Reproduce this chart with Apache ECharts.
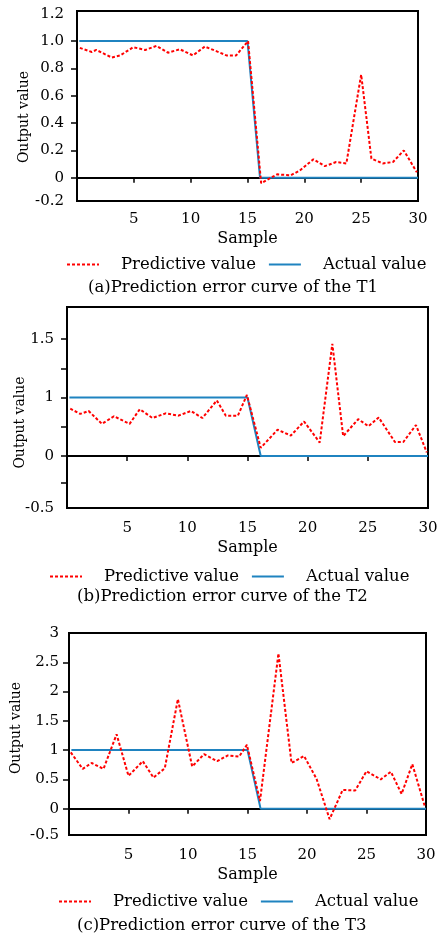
<!DOCTYPE html>
<html>
<head>
<meta charset="utf-8">
<script src="https://cdn.jsdelivr.net/npm/echarts@6/dist/echarts.min.js"></script>
<style>
  html, body { margin: 0; padding: 0; background: #fff; }
  #main { width: 444px; height: 937px; }
</style>
</head>
<body>
<div id="main"></div>
<script>
// actual value (step from 1 to 0 after sample 15), same for all three
var actualX = [0.2, 15, 16.1, 30];
var actualY = [1, 1, 0, 0];

// (a) T1
var predXA = [0.25, 1.3, 1.7, 3.05, 3.8, 4.95, 6, 7, 8, 9.05, 10.2, 11.25, 12.3, 13.15, 14, 15.05, 16.2, 17.6, 18.8, 19.6, 20.8, 21.8, 22.8, 23.7, 25, 25.9, 26.9, 27.8, 28.75, 29.9];
var predYA = [0.95, 0.92, 0.935, 0.88, 0.895, 0.955, 0.935, 0.965, 0.915, 0.94, 0.895, 0.96, 0.925, 0.895, 0.895, 1.0, -0.04, 0.025, 0.018, 0.053, 0.135, 0.085, 0.115, 0.105, 0.755, 0.14, 0.105, 0.115, 0.2, 0.04];

// (b) T2
var predXB = [0.27, 1.1, 1.8, 2.9, 3.9, 5.2, 6.05, 7.1, 8.2, 9.25, 10.3, 11.25, 12.45, 13.2, 14.2, 14.95, 16.1, 17.5, 18.6, 19.7, 21, 22.05, 22.95, 24.2, 25.05, 25.9, 27.25, 27.95, 29, 29.9];
var predYB = [0.81, 0.72, 0.77, 0.55, 0.68, 0.55, 0.8, 0.65, 0.73, 0.69, 0.77, 0.65, 0.95, 0.69, 0.69, 1.045, 0.14, 0.45, 0.35, 0.59, 0.23, 1.92, 0.34, 0.63, 0.51, 0.66, 0.24, 0.24, 0.53, 0.06];

// (c) T3
var predXC = [0.15, 1.15, 1.9, 2.9, 4, 5, 6.2, 7.1, 8.05, 9.15, 10.35, 11.35, 12.45, 13.35, 14.3, 14.95, 16.05, 17.6, 18.7, 19.75, 20.8, 21.9, 23, 24.05, 25, 26.2, 27.05, 27.95, 28.85, 29.9];
var predYC = [0.96, 0.68, 0.78, 0.68, 1.27, 0.56, 0.81, 0.53, 0.69, 1.87, 0.72, 0.93, 0.81, 0.91, 0.89, 1.09, 0.13, 2.65, 0.78, 0.9, 0.51, -0.18, 0.32, 0.31, 0.64, 0.5, 0.63, 0.25, 0.76, 0.04];

// y tick positions and the label printed at each
var yTickA = [0, 0.2, 0.4, 0.6, 0.8, 1.0];
var yLabValA = [-0.17, 0, 0.2, 0.4, 0.6, 0.8, 1.0, 1.2];
var yLabTxtA = ['-0.2', '0', '0.2', '0.4', '0.6', '0.8', '1.0', '1.2'];

var yTickB = [-0.45, 0, 0.5, 1, 1.5, 2];
var yLabValB = [-0.89, 0, 1, 2];
var yLabTxtB = ['-0.5', '0', '1', '1.5'];

var yTickC = [0, 0.5, 1, 1.5, 2, 2.5];
var yLabValC = [-0.45, 0, 0.5, 1, 1.5, 2, 2.5, 3];
var yLabTxtC = ['-0.5', '0', '0.5', '1', '1.5', '2', '2.5', '3'];

var captions = ['(a)Prediction error curve of the T1', '(b)Prediction error curve of the T2', '(c)Prediction error curve of the T3'];

var FONT = 'DejaVu Serif';
var RED = '#ff0000';
var BLUE = '#1f83c0';

function pairs(xs, ys) {
  return xs.map(function (x, i) { return [x, ys[i]]; });
}

function makeX(idx, margin, gap) {
  return {
    gridIndex: idx, type: 'value', min: 0, max: 30, interval: 5,
    name: 'Sample', nameLocation: 'middle', nameGap: gap,
    nameTextStyle: { fontFamily: FONT, fontSize: 16, color: '#000' },
    axisLine: { lineStyle: { color: '#000', width: 2 } },
    axisTick: { length: 5, lineStyle: { color: '#000', width: 1.5 } },
    axisLabel: { fontFamily: FONT, fontSize: 15, color: '#000', margin: margin,
      formatter: function (v) { return v === 0 ? '' : v; } },
    splitLine: { show: false }
  };
}

// namePad shifts the rotated name along the axis (right pad = down, left pad = up)
function makeY(idx, min, max, ticks, labVals, labTxt, margin, gap, namePad) {
  return {
    gridIndex: idx, type: 'value', min: min, max: max,
    name: 'Output value', nameLocation: 'middle', nameGap: gap, nameMoveOverlap: false,
    nameTextStyle: { fontFamily: FONT, fontSize: 14, color: '#000', padding: namePad },
    axisLine: { show: true, lineStyle: { color: '#000', width: 2 } },
    axisTick: { show: true, length: 6, customValues: ticks, lineStyle: { color: '#000', width: 1.5 } },
    axisLabel: { fontFamily: FONT, fontSize: 15, color: '#000', margin: margin,
      customValues: labVals,
      formatter: function (v) {
        for (var i = 0; i < labVals.length; i++) {
          if (Math.abs(labVals[i] - v) < 1e-6) return labTxt[i];
        }
        return '';
      } },
    splitLine: { show: false }
  };
}

function makeLegend(left, top) {
  return {
    left: left, top: top, padding: 0, itemWidth: 32, itemHeight: 14, itemGap: 12,
    data: ['Predictive value', 'Actual value'],
    itemStyle: { opacity: 0 },
    textStyle: { fontFamily: FONT, fontSize: 16.5, color: '#000', padding: [0, 0, 0, 17] }
  };
}

function makeCaption(text, left, top) {
  return { text: text, left: left, top: top, padding: 0,
    textStyle: { fontFamily: FONT, fontSize: 16.5, fontWeight: 'normal', color: '#000' } };
}

function actualSeries(idx) {
  return { name: 'Actual value', type: 'line', xAxisIndex: idx, yAxisIndex: idx,
    data: pairs(actualX, actualY), symbol: 'none', showSymbol: false, animation: false,
    lineStyle: { color: BLUE, width: 2 }, itemStyle: { color: BLUE } };
}

function predSeries(idx, xs, ys) {
  return { name: 'Predictive value', type: 'line', xAxisIndex: idx, yAxisIndex: idx,
    data: pairs(xs, ys), symbol: 'none', showSymbol: false, animation: false,
    lineStyle: { color: RED, width: 2, type: [3, 2] }, itemStyle: { color: RED } };
}

var myChart = echarts.init(document.getElementById('main'));
var option = {
  backgroundColor: '#fff',
  animation: false,
  title: [
    makeCaption(captions[0], 88, 279),
    makeCaption(captions[1], 77, 588),
    makeCaption(captions[2], 77, 917)
  ],
  legend: [makeLegend(66, 256), makeLegend(49, 568), makeLegend(58, 893)],
  grid: [
    { left: 77, top: 11, width: 341, height: 190, show: true, borderColor: '#000', borderWidth: 2, backgroundColor: 'transparent' },
    { left: 67, top: 307, width: 361, height: 201, show: true, borderColor: '#000', borderWidth: 2, backgroundColor: 'transparent' },
    { left: 69, top: 633, width: 357, height: 202, show: true, borderColor: '#000', borderWidth: 2, backgroundColor: 'transparent' }
  ],
  xAxis: [makeX(0, 11, 30), makeX(1, 13, 32), makeX(2, 13, 32)],
  yAxis: [
    makeY(0, -0.17, 1.22, yTickA, yLabValA, yLabTxtA, 13, 46, [0, 22, 0, 0]),
    makeY(1, -0.89, 2.55, yTickB, yLabValB, yLabTxtB, 13, 40, [0, 30, 0, 0]),
    makeY(2, -0.45, 3.0, yTickC, yLabValC, yLabTxtC, 10, 46, [0, 0, 0, 12])
  ],
  series: [
    actualSeries(0), predSeries(0, predXA, predYA),
    actualSeries(1), predSeries(1, predXB, predYB),
    actualSeries(2), predSeries(2, predXC, predYC)
  ]
};
myChart.setOption(option);
</script>
</body>
</html>
